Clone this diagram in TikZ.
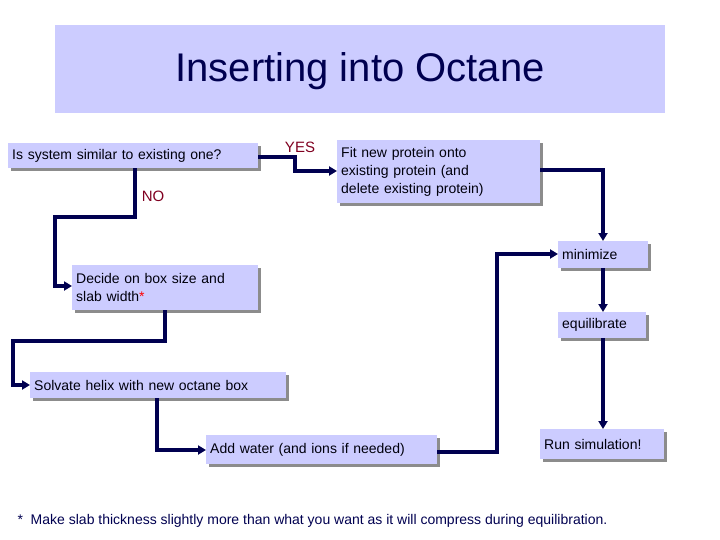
\documentclass[tikz,border=0pt]{standalone}
\usepackage{fontspec}
\setmainfont{Liberation Sans}
\usetikzlibrary{shadows,arrows.meta}
\definecolor{lav}{RGB}{204,204,255}
\definecolor{navy}{RGB}{0,0,80}
\definecolor{dred}{RGB}{128,0,32}
\begin{document}
\begin{tikzpicture}[x=1pt,y=-1pt,
  box/.style={fill=lav,anchor=north west,inner xsep=4pt,inner ysep=0pt,align=left,
    font=\fontsize{14}{18}\selectfont,text=black!85!navy,
    drop shadow={shadow xshift=3pt,shadow yshift=-3pt,fill=black!45,opacity=1}},
  conn/.style={draw=navy,line width=3.5pt,-{Triangle[length=8pt,width=9pt]}},
  lbl/.style={text=dred,font=\fontsize{15}{18}\selectfont}]
\useasboundingbox (0,0) rectangle (720,540);
\fill[lav] (55,25) rectangle (665,113);
\node[text=navy,font=\fontsize{40}{44}\selectfont] (title) at (360,71) {Inserting into Octane};
\node[box,minimum width=250pt,minimum height=25pt,text width=242pt] (q) at (8,143) {Is system similar to existing one?};
\node[box,minimum width=203pt,minimum height=63pt,text width=195pt] (fit) at (337,140) {Fit new protein onto\\existing protein (and\\delete existing protein)};
\node[box,minimum width=90pt,minimum height=27pt,text width=82pt] (min) at (558,241) {minimize};
\node[box,minimum width=186pt,minimum height=45pt,text width=178pt] (dec) at (72,265) {Decide on box size and\\slab width\textcolor{red}{*}};
\node[box,minimum width=88pt,minimum height=26pt,text width=80pt] (eq) at (558,312) {equilibrate};
\node[box,minimum width=256pt,minimum height=26pt,text width=248pt] (sol) at (30,372) {Solvate helix with new octane box};
\node[box,minimum width=231pt,minimum height=29pt,text width=223pt] (aw) at (206,435) {Add water (and ions if needed)};
\node[box,minimum width=124pt,minimum height=30pt,text width=116pt] (run) at (540,429) {Run simulation!};
\node[lbl] (yes) at (300,147) {YES};
\node[lbl] (no) at (153,196) {NO};
\node[anchor=west,text=navy,font=\fontsize{14}{18}\selectfont] (fn) at (14,521) {*\ \ Make slab thickness slightly more than what you want as it will compress during equilibration.};
\coordinate (c1) at (295,157);
\draw[conn] (q.east |- c1) -| (c1) |- (fit.west |- 0,171);
\draw[conn] (q.south -| 135,0) |- (55,217) |- (dec.west |- 0,286);
\draw[conn] (dec.south -| 165,0) |- (13,341) |- (sol.west |- 0,385);
\draw[conn] (sol.south -| 157,0) |- (aw.west |- 0,450);
\draw[conn] (aw.east |- 0,452) -| (497,254) -- (min.west |- 0,254);
\draw[conn] (fit.east |- 0,170) -| (min.north -| 603,0);
\draw[conn] (min.south -| 603,0) -- (eq.north -| 603,0);
\draw[conn] (eq.south -| 603,0) -- (run.north -| 603,0);
\end{tikzpicture}
\end{document}
